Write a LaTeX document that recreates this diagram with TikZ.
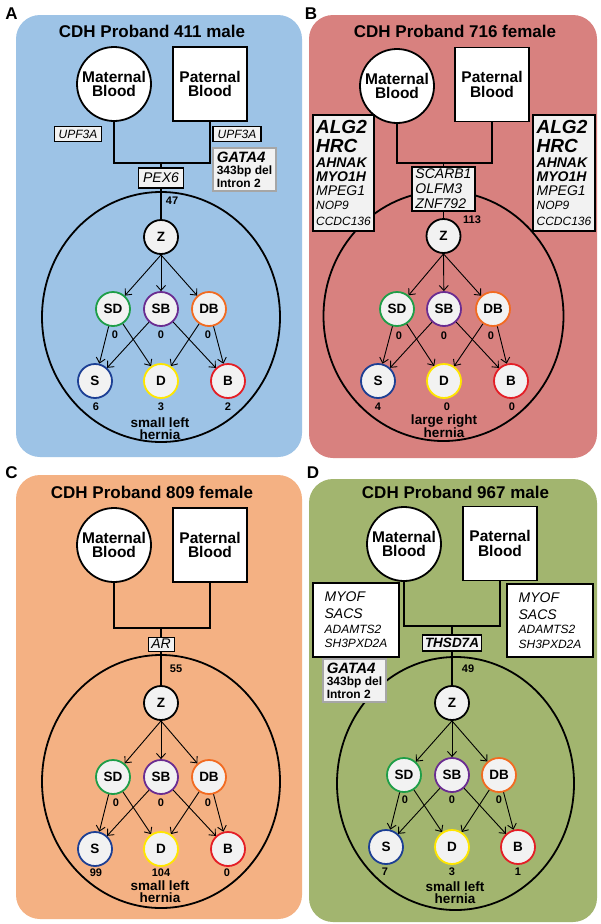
\documentclass[tikz,border=0pt]{standalone}
\usepackage{fontspec}
\setmainfont{Liberation Sans}
\usetikzlibrary{arrows.meta}

\definecolor{panelA}{HTML}{9DC3E6}
\definecolor{panelB}{HTML}{D8817F}
\definecolor{panelC}{HTML}{F4B183}
\definecolor{panelD}{HTML}{A2B56F}
\definecolor{boxgray}{HTML}{F2F2F2}
\definecolor{sdgreen}{HTML}{1E9E48}
\definecolor{sbpurple}{HTML}{6A2C91}
\definecolor{dborange}{HTML}{F26B21}
\definecolor{sblue}{HTML}{1C3F94}
\definecolor{dyellow}{HTML}{FFE600}
\definecolor{bred}{HTML}{E41E26}

\newcommand{\fsz}[2]{\fontsize{#1}{#2}\selectfont}

\tikzset{
  panel/.style={rounded corners=24pt},
  tag/.style={font=\fsz{17}{17}\bfseries, inner sep=0pt},
  title/.style={font=\fsz{17}{18}\bfseries, inner sep=0pt},
  parent/.style={draw, line width=1.8pt, fill=white, minimum size=74pt, inner sep=0pt, align=center, font=\fsz{15.5}{14.5}\bfseries},
  mom/.style={parent, circle},
  dad/.style={parent, rectangle},
  ped/.style={line width=1.8pt},
  ring/.style={line width=1.8pt},
  gene/.style={draw, line width=1.1pt, fill=boxgray, inner sep=0pt, font=\fsz{12}{13}\itshape},
  genelist/.style={draw, line width=1.1pt, fill=boxgray, align=left, inner sep=0pt, font=\fsz{14}{14}\itshape},
  gata/.style={draw=gray!70, line width=1.3pt, fill=boxgray, align=left, inner sep=0pt, minimum width=63pt, minimum height=43pt, font=\fsz{12}{12.5}\bfseries},
  kid/.style={circle, draw, line width=1.8pt, fill=boxgray, minimum size=34pt, inner sep=0pt, font=\fsz{13.5}{14}\bfseries},
  cnt/.style={font=\fsz{11}{12}\bfseries, inner sep=0pt},
  note/.style={align=center, font=\fsz{13.5}{12}\bfseries, inner sep=0pt},
  arr/.style={->, line width=0.9pt}
}

\begin{document}
\begin{tikzpicture}[x=1pt, y=-1pt, >={Straight Barb[length=5pt,width=9pt]}]
  \fill[white] (0,0) rectangle (600,924);
  \useasboundingbox (0,0) rectangle (600,924);

  % Panel A
  \fill[panelA, panel] (16,15) rectangle (302,457);
  \draw[ring] (161,317) ellipse [x radius=119pt, y radius=125pt];
  % Nodes
  \node[tag] (aTag) at (11.5,13.5) {A};
  \node[title] (aTitle) at (152,31) {CDH Proband 411 male};
  \node[mom] (aMom) at (114,84) {Maternal\\Blood};
  \node[dad] (aDad) at (210,84) {Paternal\\Blood};
  \node[gene, minimum width=47pt, minimum height=15pt] (aUpfL) at (78,134) {UPF3A};
  \node[gene, minimum width=48pt, minimum height=15pt] (aUpfR) at (237,134) {UPF3A};
  \node[gata] (aGata) at (244.5,169.5) {{\itshape\fsz{15}{12.5}GATA4}\\343bp del\\Intron 2};
  \coordinate (aJoin) at (161,163);
  \node[gene, line width=1.6pt, minimum width=45pt, minimum height=20pt, font=\fsz{14}{14}\itshape] (aPex) at (161,178) {PEX6};
  \node[cnt] (aN) at (172,201) {47};
  \node[kid, draw=black] (aZ) at (161,237) {Z};
  \node[kid, draw=sdgreen] (aSD) at (113,309) {SD};
  \node[kid, draw=sbpurple] (aSB) at (161,309) {SB};
  \node[kid, draw=dborange] (aDB) at (209,309) {DB};
  \node[cnt] (aSDn) at (115,335) {0};
  \node[cnt] (aSBn) at (161,335) {0};
  \node[cnt] (aDBn) at (208,335) {0};
  \node[kid, draw=sblue] (aS) at (95,381) {S};
  \node[kid, draw=dyellow] (aD) at (161,381) {D};
  \node[kid, draw=bred] (aB) at (228,381) {B};
  \node[cnt] (aSn) at (96,407) {6};
  \node[cnt] (aDn) at (161,407) {3};
  \node[cnt] (aBn) at (228,407) {2};
  \node[note] (aNote) at (160,429) {small left\\hernia};
  % Edges
  \draw[ped] (aMom.south) |- (aJoin) -| (aDad.south);
  \draw[ped] (aJoin) -- (aPex.north);
  \draw[ped] (aPex.south) -- (aZ.north);
  \draw[arr] (aZ.south) -- (aSD);
  \draw[arr] (aZ.south) -- (aSB);
  \draw[arr] (aZ.south) -- (aDB);
  \draw[arr] (aSD) -- (aS);
  \draw[arr] (aSD) -- (aD);
  \draw[arr] (aSB) -- (aS);
  \draw[arr] (aSB) -- (aB);
  \draw[arr] (aDB) -- (aD);
  \draw[arr] (aDB) -- (aB);

  % Panel B
  \fill[panelB, panel] (309,15) rectangle (597,458);
  \draw[ring] (443.5,316) ellipse [x radius=120pt, y radius=125pt];
  % Nodes
  \node[tag] (bTag) at (311,13.5) {B};
  \node[title] (bTitle) at (455,31) {CDH Proband 716 female};
  \node[mom] (bMom) at (397,86) {Maternal\\Blood};
  \node[dad] (bDad) at (492,84.5) {Paternal\\Blood};
  \node[genelist, minimum width=61pt, minimum height=116pt] (bLeft) at (343.5,173) {{\bfseries\fsz{19}{19}ALG2}\\[5pt]{\bfseries\fsz{19}{19}HRC}\\[1pt]{\bfseries AHNAK}\\{\bfseries MYO1H}\\MPEG1\\{\fsz{12}{12}NOP9}\\[2pt]{\fsz{12}{12}CCDC136}};
  \node[genelist, minimum width=62pt, minimum height=116pt] (bRight) at (564,173) {{\bfseries\fsz{19}{19}ALG2}\\[5pt]{\bfseries\fsz{19}{19}HRC}\\[1pt]{\bfseries AHNAK}\\{\bfseries MYO1H}\\MPEG1\\{\fsz{12}{12}NOP9}\\[2pt]{\fsz{12}{12}CCDC136}};
  \coordinate (bJoin) at (443.5,163);
  \node[genelist, minimum width=63pt, minimum height=44pt, font=\fsz{14}{15}\itshape] (bMid) at (443.5,189) {SCARB1\\OLFM3\\ZNF792};
  \node[cnt] (bN) at (472,220) {113};
  \node[kid, draw=black] (bZ) at (443.5,236) {Z};
  \node[kid, draw=sdgreen] (bSD) at (397,309) {SD};
  \node[kid, draw=sbpurple] (bSB) at (444,309) {SB};
  \node[kid, draw=dborange] (bDB) at (493,309) {DB};
  \node[cnt] (bSDn) at (399,336) {0};
  \node[cnt] (bSBn) at (444,336) {0};
  \node[cnt] (bDBn) at (491,336) {0};
  \node[kid, draw=sblue] (bS) at (378,381) {S};
  \node[kid, draw=dyellow] (bD) at (444,381) {D};
  \node[kid, draw=bred] (bB) at (511,381) {B};
  \node[cnt] (bSn) at (378,407) {4};
  \node[cnt] (bDn) at (447,407) {0};
  \node[cnt] (bBn) at (512,407) {0};
  \node[note] (bNote) at (444,426) {large right\\hernia};
  % Edges
  \draw[ped] (bMom.south) |- (bJoin) -| (bDad.south);
  \draw[ped] (bJoin) -- (bMid.north);
  \draw[ped] (bMid.south) -- (bZ.north);
  \draw[arr] (bZ.south) -- (bSD);
  \draw[arr] (bZ.south) -- (bSB);
  \draw[arr] (bZ.south) -- (bDB);
  \draw[arr] (bSD) -- (bS);
  \draw[arr] (bSD) -- (bD);
  \draw[arr] (bSB) -- (bS);
  \draw[arr] (bSB) -- (bB);
  \draw[arr] (bDB) -- (bD);
  \draw[arr] (bDB) -- (bB);

  % Panel C
  \fill[panelC, panel] (16,475) rectangle (302,919);
  \draw[ring] (161,781.5) ellipse [x radius=119pt, y radius=126.5pt];
  % Nodes
  \node[tag] (cTag) at (11.5,473) {C};
  \node[title] (cTitle) at (152,492) {CDH Proband 809 female};
  \node[mom] (cMom) at (114,545) {Maternal\\Blood};
  \node[dad] (cDad) at (210,545) {Paternal\\Blood};
  \coordinate (cJoin) at (161,628);
  \node[gene, line width=0.9pt, minimum width=26pt, minimum height=14pt, font=\fsz{14}{14}\itshape] (cAR) at (161,644) {AR};
  \node[cnt] (cN) at (176,669) {55};
  \node[kid, draw=black] (cZ) at (161,703) {Z};
  \node[kid, draw=sdgreen] (cSD) at (113,777) {SD};
  \node[kid, draw=sbpurple] (cSB) at (161,777) {SB};
  \node[kid, draw=dborange] (cDB) at (209,777) {DB};
  \node[cnt] (cSDn) at (116,803) {0};
  \node[cnt] (cSBn) at (161,803) {0};
  \node[cnt] (cDBn) at (208,803) {0};
  \node[kid, draw=sblue] (cS) at (95,849) {S};
  \node[kid, draw=dyellow] (cD) at (161,849) {D};
  \node[kid, draw=bred] (cB) at (228,849) {B};
  \node[cnt] (cSn) at (96,873) {99};
  \node[cnt] (cDn) at (161,873) {104};
  \node[cnt] (cBn) at (227,873) {0};
  \node[note] (cNote) at (160,892) {small left\\hernia};
  % Edges
  \draw[ped] (cMom.south) |- (cJoin) -| (cDad.south);
  \draw[ped] (cJoin) -- (cAR.north);
  \draw[ped] (cAR.south) -- (cZ.north);
  \draw[arr] (cZ.south) -- (cSD);
  \draw[arr] (cZ.south) -- (cSB);
  \draw[arr] (cZ.south) -- (cDB);
  \draw[arr] (cSD) -- (cS);
  \draw[arr] (cSD) -- (cD);
  \draw[arr] (cSB) -- (cS);
  \draw[arr] (cSB) -- (cB);
  \draw[arr] (cDB) -- (cD);
  \draw[arr] (cDB) -- (cB);

  % Panel D
  \fill[panelD, panel] (309,479) rectangle (597,922);
  \draw[ring] (455.5,783.5) ellipse [x radius=118.5pt, y radius=126.5pt];
  % Nodes
  \node[tag] (dTag) at (313,473) {D};
  \node[title] (dTitle) at (455.5,492) {CDH Proband 967 male};
  \node[mom] (dMom) at (404,544) {Maternal\\Blood};
  \node[dad] (dDad) at (500,543.5) {Paternal\\Blood};
  \node[genelist, fill=white, minimum width=86pt, minimum height=74pt, font=\fsz{14}{14.5}\itshape] (dLeft) at (356,620) {MYOF\\[2.5pt]SACS\\{\fsz{12}{12}ADAMTS2}\\{\fsz{12}{12}SH3PXD2A}};
  \node[genelist, fill=white, minimum width=86pt, minimum height=73pt, font=\fsz{14}{14.5}\itshape] (dRight) at (550,620.5) {MYOF\\[2.5pt]SACS\\{\fsz{12}{12}ADAMTS2}\\{\fsz{12}{12}SH3PXD2A}};
  \node[gata] (dGata) at (354.5,680.5) {{\itshape\fsz{15}{12.5}GATA4}\\343bp del\\Intron 2};
  \coordinate (dJoin) at (452,626);
  \node[gene, line width=1.4pt, minimum width=59pt, minimum height=16pt, font=\fsz{13.5}{14}\bfseries\itshape] (dThs) at (452,643) {THSD7A};
  \node[cnt] (dN) at (468,669) {49};
  \node[kid, draw=black] (dZ) at (452,703) {Z};
  \node[kid, draw=sdgreen] (dSD) at (404,775) {SD};
  \node[kid, draw=sbpurple] (dSB) at (452,775) {SB};
  \node[kid, draw=dborange] (dDB) at (499,775) {DB};
  \node[cnt] (dSDn) at (405,800) {0};
  \node[cnt] (dSBn) at (452,800) {0};
  \node[cnt] (dDBn) at (499,800) {0};
  \node[kid, draw=sblue] (dS) at (386,847) {S};
  \node[kid, draw=dyellow] (dD) at (452,847) {D};
  \node[kid, draw=bred] (dB) at (518,847) {B};
  \node[cnt] (dSn) at (385,872) {7};
  \node[cnt] (dDn) at (452,872) {3};
  \node[cnt] (dBn) at (518,872) {1};
  \node[note] (dNote) at (455,893) {small left\\hernia};
  % Edges
  \draw[ped] (dMom.south) |- (dJoin) -| (dDad.south);
  \draw[ped] (dJoin) -- (dThs.north);
  \draw[ped] (dThs.south) -- (dZ.north);
  \draw[arr] (dZ.south) -- (dSD);
  \draw[arr] (dZ.south) -- (dSB);
  \draw[arr] (dZ.south) -- (dDB);
  \draw[arr] (dSD) -- (dS);
  \draw[arr] (dSD) -- (dD);
  \draw[arr] (dSB) -- (dS);
  \draw[arr] (dSB) -- (dB);
  \draw[arr] (dDB) -- (dD);
  \draw[arr] (dDB) -- (dB);
\end{tikzpicture}
\end{document}
